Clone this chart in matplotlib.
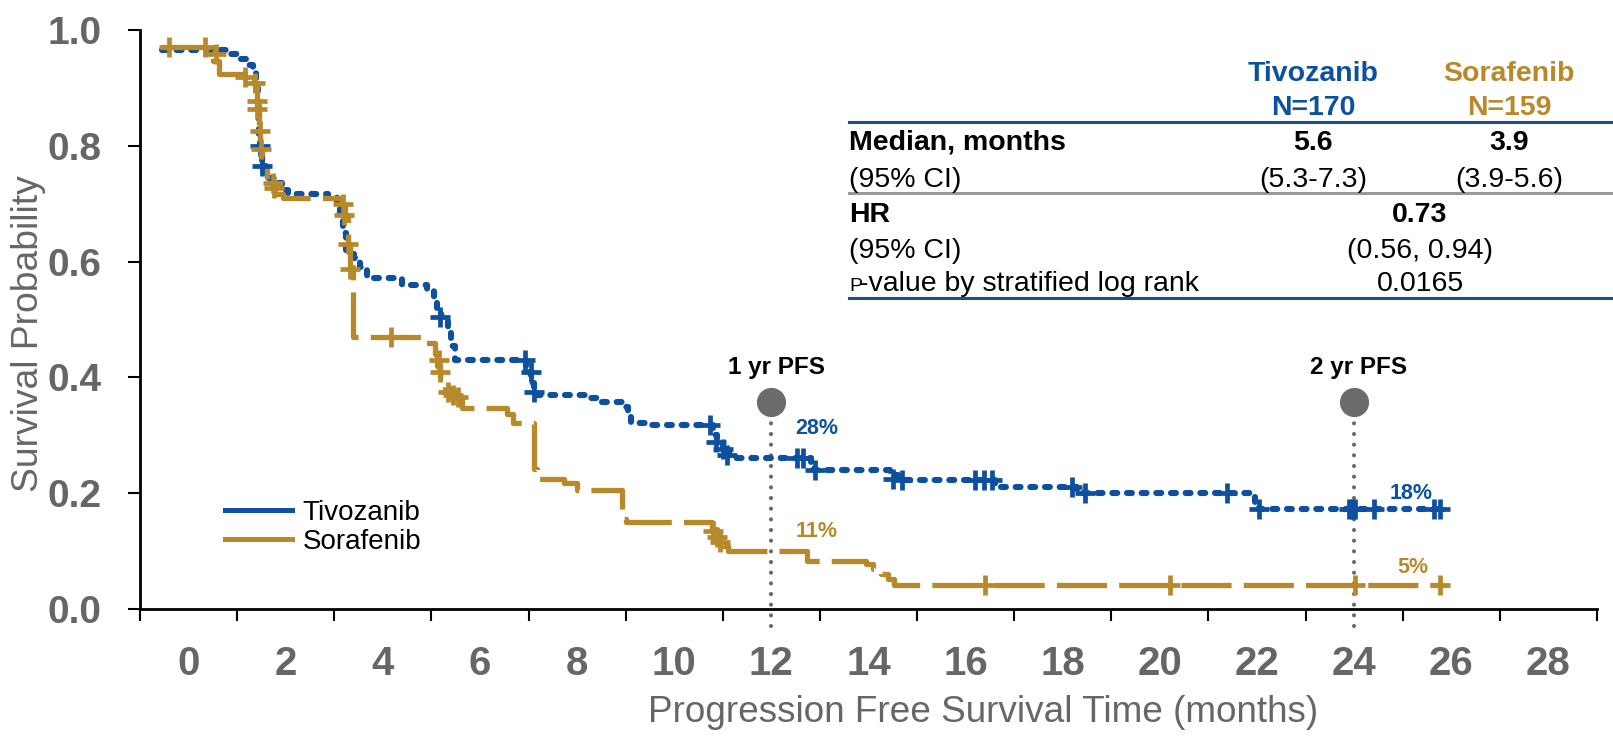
"""Kaplan-Meier PFS chart: tivozanib vs sorafenib."""

import matplotlib

matplotlib.use("Agg")
import matplotlib.pyplot as plt
from matplotlib.lines import Line2D

plt.rcParams["font.family"] = ["Liberation Sans", "DejaVu Sans"]

BLUE = "#0c509f"
GOLD = "#b8892b"
GRAY_TXT = "#666666"
GRAY_MARK = "#6b6b6b"

FIG_W, FIG_H = 1613, 736

# --- curve data (months, survival probability) ---
TIVO_TIMES = [
    -0.55, 0.80, 1.00, 1.22, 1.33, 1.38, 1.42, 1.45, 1.48, 1.52, 1.60, 1.78,
    1.92, 2.05, 2.88, 3.05, 3.12, 3.18, 3.25, 3.40, 3.52, 3.68, 4.40, 4.90,
    5.05, 5.12, 5.20, 5.35, 5.40, 5.48, 6.95, 7.05, 7.12, 8.20, 8.50, 8.98,
    9.05, 9.12, 9.40, 10.80, 10.88, 11.00, 11.12, 11.20, 12.82, 12.88, 14.45,
    14.60, 16.60, 18.30, 21.95, 22.05, 25.85,
]
TIVO_SURV = [
    0.965, 0.958, 0.950, 0.940, 0.925, 0.900, 0.860, 0.820, 0.790, 0.765, 0.745, 0.735,
    0.723, 0.717, 0.712, 0.702, 0.680, 0.650, 0.620, 0.607, 0.590, 0.571, 0.559, 0.550,
    0.535, 0.520, 0.504, 0.480, 0.455, 0.430, 0.410, 0.390, 0.370, 0.364, 0.358, 0.349,
    0.339, 0.321, 0.318, 0.300, 0.287, 0.276, 0.266, 0.261, 0.250, 0.240, 0.232,
    0.222, 0.211, 0.201, 0.185, 0.172, 0.172,
]
TIVO_CENSOR_T = [
    1.47, 1.52, 5.18, 6.92, 7.06, 7.12, 10.73, 10.87, 11.00, 11.08, 12.52, 12.65,
    12.89, 14.50, 14.68, 16.20, 16.38, 16.55, 18.18, 18.45, 21.38, 22.05, 23.90,
    23.96, 24.02, 24.40, 25.65, 25.77,
]
TIVO_CENSOR_S = [
    0.800, 0.765, 0.504, 0.430, 0.410, 0.375, 0.318, 0.289, 0.276, 0.266, 0.261, 0.261,
    0.240, 0.224, 0.222, 0.222, 0.222, 0.222, 0.211, 0.201, 0.201, 0.172, 0.172,
    0.172, 0.172, 0.172, 0.172, 0.172,
]

SORA_TIMES = [
    -0.55, 0.36, 0.50, 0.62, 1.22, 1.35, 1.40, 1.44, 1.48, 1.52, 1.62, 1.78,
    1.95, 3.15, 3.22, 3.28, 3.33, 3.39, 4.78, 5.08, 5.12, 5.18, 5.28, 5.40,
    5.62, 6.55, 6.68, 7.12, 7.18, 7.72, 8.00, 8.92, 9.00, 10.78, 10.85, 10.92,
    11.00, 11.10, 12.74, 13.95, 14.10, 14.25, 14.40, 14.52, 25.85,
]
SORA_SURV = [
    0.970, 0.958, 0.946, 0.924, 0.918, 0.909, 0.870, 0.830, 0.800, 0.760, 0.740, 0.717,
    0.709, 0.700, 0.680, 0.630, 0.590, 0.470, 0.459, 0.440, 0.420, 0.400, 0.380, 0.366,
    0.347, 0.336, 0.321, 0.241, 0.224, 0.218, 0.206, 0.155, 0.150, 0.138, 0.128, 0.120,
    0.109, 0.101, 0.083, 0.077, 0.069, 0.060, 0.052, 0.041, 0.041,
]
SORA_CENSOR_T = [
    -0.40, 0.34, 0.56, 1.16, 1.37, 1.41, 1.41, 1.47, 1.50, 1.74, 1.76, 3.18,
    3.20, 3.28, 3.32, 4.17, 5.15, 5.18, 5.35, 5.45, 5.55, 10.80, 10.88, 10.95,
    16.39, 20.20, 24.02, 25.77,
]
SORA_CENSOR_S = [
    0.970, 0.970, 0.958, 0.918, 0.909, 0.877, 0.863, 0.826, 0.795, 0.735, 0.727, 0.700,
    0.680, 0.631, 0.588, 0.470, 0.430, 0.410, 0.375, 0.370, 0.366, 0.135, 0.125, 0.115,
    0.041, 0.041, 0.041, 0.041,
]

SERIES_NAMES = ["Tivozanib", "Sorafenib"]
X_LABEL_VALUES = list(range(0, 29, 2))
X_TICK_MARKS = list(range(-1, 30, 2))
Y_TICKS = [0.0, 0.2, 0.4, 0.6, 0.8, 1.0]

LANDMARK_MONTHS = [12, 24]
LANDMARK_NAMES = ["1 yr PFS", "2 yr PFS"]
TIVO_LANDMARK_PCT = ["28%", "18%"]
SORA_LANDMARK_PCT = ["11%", "5%"]

TABLE_HEAD = [("Tivozanib", "N=170"), ("Sorafenib", "N=159")]
MEDIAN = ["5.6", "3.9"]
MEDIAN_CI = ["(5.3-7.3)", "(3.9-5.6)"]
HR = "0.73"
HR_CI = "(0.56, 0.94)"
P_VALUE = "0.0165"


def fig_xy(x_px, y_px):
    """Convert a pixel position (top-left origin) to figure fraction."""
    return x_px / FIG_W, 1 - y_px / FIG_H


fig = plt.figure(figsize=(FIG_W / 100, FIG_H / 100), dpi=100)
ax = fig.add_axes([140 / FIG_W, 1 - 609 / FIG_H, 1457 / FIG_W, 579 / FIG_H])

# curves
ax.step(TIVO_TIMES, TIVO_SURV, where="post", color=BLUE, lw=4.4,
        linestyle=(0, (0.8, 1.6)), dash_capstyle="round", zorder=3)
ax.step(SORA_TIMES, SORA_SURV, where="post", color=GOLD, lw=3.8,
        linestyle=(0, (9.5, 2.3)), dash_capstyle="butt", zorder=4)
ax.plot(TIVO_CENSOR_T, TIVO_CENSOR_S, linestyle="none", marker="+", ms=14, mew=3.4,
        color=BLUE, zorder=5)
ax.plot(SORA_CENSOR_T, SORA_CENSOR_S, linestyle="none", marker="+", ms=14, mew=3.4,
        color=GOLD, zorder=5)

# landmark markers
dot_y = 0.357
for month, name in zip(LANDMARK_MONTHS, LANDMARK_NAMES):
    ax.plot([month, month], [dot_y, -0.03], color=GRAY_MARK, lw=3,
            linestyle=(0, (0.01, 2.55)), dash_capstyle="round", clip_on=False, zorder=2)
    ax.plot([month], [dot_y], marker="o", ms=20, color=GRAY_MARK, zorder=6)
    ax.text(month + 0.1, 0.417, name, ha="center", va="center", fontsize=17.5,
            fontweight="bold", color="black")

pct_pos = [((12.93, 0.311), (12.93, 0.133)), ((25.17, 0.200), (25.20, 0.072))]
for (tivo_xy, sora_xy), tp, sp in zip(pct_pos, TIVO_LANDMARK_PCT, SORA_LANDMARK_PCT):
    ax.text(*tivo_xy, tp, ha="center", va="center", fontsize=15.5, fontweight="bold", color=BLUE)
    ax.text(*sora_xy, sp, ha="center", va="center", fontsize=15.5, fontweight="bold", color=GOLD)

# axes
ax.set_xlim(-1, 29)
ax.set_ylim(0, 1)
ax.set_xticks(X_LABEL_VALUES)
ax.set_xticklabels([str(v) for v in X_LABEL_VALUES], fontweight="bold")
ax.set_xticks(X_TICK_MARKS, minor=True)
ax.tick_params(axis="x", which="major", length=0, pad=26, labelsize=29, labelcolor=GRAY_TXT)
ax.tick_params(axis="x", which="minor", length=8.6, width=1.5, direction="out")
ax.set_yticks(Y_TICKS)
ax.set_yticklabels([f"{v:.1f}" for v in Y_TICKS], fontweight="bold")
ax.tick_params(axis="y", length=8.6, width=1.5, pad=19, labelsize=28, labelcolor=GRAY_TXT)
for side in ("top", "right"):
    ax.spines[side].set_visible(False)
for side in ("left", "bottom"):
    ax.spines[side].set_linewidth(2)

ax.set_xlabel("Progression Free Survival Time (months)", fontsize=26.6, color=GRAY_TXT,
              va="baseline")
ax.xaxis.set_label_coords(0.5783, -0.195)
ax.set_ylabel("Survival Probability", fontsize=26.8, color=GRAY_TXT, rotation=90,
              rotation_mode="anchor", ha="center", va="baseline")
ax.yaxis.set_label_coords(-0.0703, 0.475)

# legend
handles = [Line2D([], [], color=BLUE, lw=3.6), Line2D([], [], color=GOLD, lw=3.6)]
ax.legend(handles, SERIES_NAMES, loc="upper left", bbox_to_anchor=(0.0583, 0.188),
          frameon=False, fontsize=20, handlelength=2.4, handletextpad=0.4,
          borderpad=0, borderaxespad=0, labelspacing=0.1)

# results table
col_x = [1313, 1509]
mid_x = 1420
left_x = 849
for x, (name, n), color in zip(col_x, TABLE_HEAD, [BLUE, GOLD]):
    fig.text(*fig_xy(x, 81), name, ha="center", va="baseline", fontsize=20.5,
             fontweight="bold", color=color)
    fig.text(*fig_xy(x, 115), n, ha="center", va="baseline", fontsize=20.5,
             fontweight="bold", color=color)

fig.text(*fig_xy(left_x, 150), "Median, months", ha="left", va="baseline",
         fontsize=20.5, fontweight="bold")
fig.text(*fig_xy(left_x, 187), "(95% CI)", ha="left", va="baseline", fontsize=20.5)
for x, med, ci in zip(col_x, MEDIAN, MEDIAN_CI):
    fig.text(*fig_xy(x, 150), med, ha="center", va="baseline", fontsize=20.5, fontweight="bold")
    fig.text(*fig_xy(x, 187), ci, ha="center", va="baseline", fontsize=20.5)

fig.text(*fig_xy(left_x, 222), "HR", ha="left", va="baseline", fontsize=20.5, fontweight="bold")
fig.text(*fig_xy(mid_x, 222), HR, ha="center", va="baseline", fontsize=20.5, fontweight="bold")
fig.text(*fig_xy(left_x, 258), "(95% CI)", ha="left", va="baseline", fontsize=20.5)
fig.text(*fig_xy(mid_x, 258), HR_CI, ha="center", va="baseline", fontsize=20.5)
fig.text(*fig_xy(left_x, 291), "P", ha="left", va="baseline", fontsize=14)
fig.text(*fig_xy(left_x + 10, 291), "-value by stratified log rank", ha="left",
         va="baseline", fontsize=20.5)
fig.text(*fig_xy(mid_x, 291), P_VALUE, ha="center", va="baseline", fontsize=20.5)

for y_px, color in [(121.5, "#1f4e8c"), (193, "#9a9a9a"), (298, "#1f4e8c")]:
    fig.add_artist(Line2D([left_x / FIG_W, 1.0], [1 - y_px / FIG_H] * 2,
                          transform=fig.transFigure, color=color, lw=2.2))

fig.savefig("out.png", dpi=100)
